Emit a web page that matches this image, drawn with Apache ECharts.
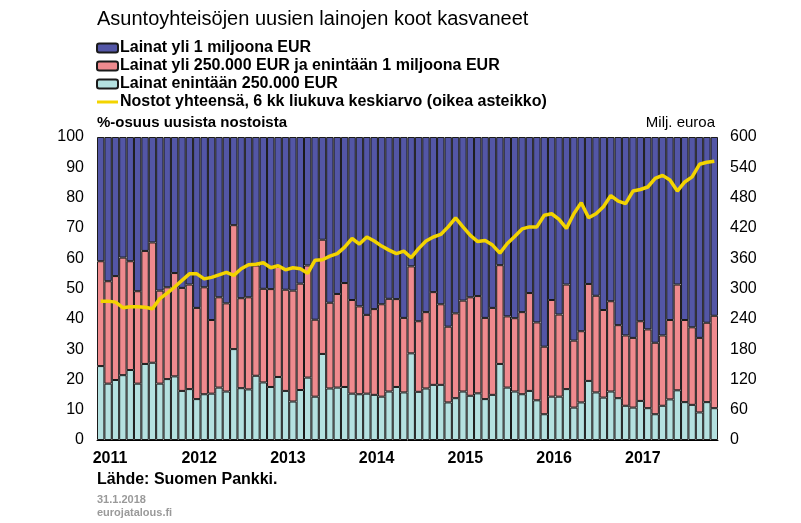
<!DOCTYPE html>
<html>
<head>
<meta charset="utf-8">
<script src="https://cdn.jsdelivr.net/npm/echarts@6/dist/echarts.min.js"></script>
<style>html,body{margin:0;padding:0;background:#fff}#c{width:801px;height:523px}</style>
</head>
<body>
<div id="c"></div>
<script>
// Monthly categories Jan 2011 – Dec 2017
const years = ['2011','2012','2013','2014','2015','2016','2017'];
const months = [];
years.forEach(y => { for (let m = 1; m <= 12; m++) months.push(y + '-' + (m < 10 ? '0' + m : m)); });

// Share of new loans, % (stack: small + medium + large = 100)
const smallLoans = [24.4,18.6,19.8,21.4,23.1,18.6,25.1,25.5,18.6,20.1,21.0,16.2,
  16.8,13.5,15.1,15.3,17.3,16.0,30.0,17.1,16.7,21.2,19.0,17.5,
  20.8,16.2,12.7,16.5,20.6,14.3,28.4,17.0,17.3,17.5,15.3,15.1,
  15.3,14.9,14.3,16.0,17.5,15.7,28.6,15.9,17.0,18.2,18.2,12.4,
  13.8,16.0,14.6,15.4,13.5,14.9,25.1,17.3,16.0,15.1,16.2,13.1,
  8.5,14.3,14.3,16.8,10.7,12.4,19.5,15.7,14.0,16.0,13.8,11.3,
  10.7,12.9,10.5,8.5,11.3,13.4,16.4,12.5,11.6,9.1,12.5,10.5];
const mediumLoans = [34.6,33.8,34.3,38.8,35.9,30.5,37.3,39.7,30.7,30.3,34.1,34.0,
  34.5,30.1,35.3,24.3,29.8,29.1,40.9,29.7,30.4,36.4,30.9,32.3,
  36.3,33.4,36.6,35.1,37.0,25.4,37.7,28.3,30.9,34.3,30.9,29.0,
  26.0,28.3,30.5,30.6,29.0,24.6,28.7,23.3,25.2,30.6,26.6,25.0,
  28.0,30.0,32.5,32.1,26.8,28.7,32.6,23.5,24.2,27.1,32.3,25.7,
  22.3,31.9,27.1,34.5,22.1,23.5,32.0,31.9,28.9,29.8,24.1,23.2,
  23.0,26.3,26.0,23.6,23.2,26.2,34.9,27.1,25.6,24.6,26.2,30.5];
const largeLoans = [41.0,47.6,45.9,39.8,41.0,50.9,37.6,34.8,50.7,49.6,44.9,49.8,
  48.7,56.4,49.6,60.4,52.9,54.9,29.1,53.2,52.9,42.4,50.1,50.2,
  42.9,50.4,50.7,48.4,42.4,60.3,33.9,54.7,51.8,48.2,53.8,55.9,
  58.7,56.8,55.2,53.4,53.5,59.7,42.7,60.8,57.8,51.2,55.2,62.6,
  58.2,54.0,52.9,52.5,59.7,56.4,42.3,59.2,59.8,57.8,51.5,61.2,
  69.2,53.8,58.6,48.7,67.2,64.1,48.5,52.4,57.1,54.2,62.1,65.5,
  66.3,60.8,63.5,67.9,65.5,60.4,48.7,60.4,62.8,66.3,61.3,59.0];
// Total drawdowns, 6-month moving average, EUR million (right axis)
const totalDrawdowns = [275,275,273,262,264,264,263,260,280,291,303,316,
  329,329,319,322,327,332,326,339,347,348,351,341,
  345,337,341,339,330,356,357,364,369,382,399,388,
  402,394,384,376,369,374,361,379,394,402,407,422,
  440,422,405,393,395,386,370,389,403,418,422,422,
  445,448,437,419,448,470,440,448,462,484,473,468,
  493,496,501,518,524,515,493,511,521,546,550,552];

const leftTicks = [0,10,20,30,40,50,60,70,80,90,100];
const rightTicks = [0,60,120,180,240,300,360,420,480,540,600];

const FONT = '"Liberation Sans", Arial, Helvetica, sans-serif';
const chart = echarts.init(document.getElementById('c'), null, {renderer: 'canvas'});
const border = {borderColor: '#1a1a1a', borderWidth: 1};
const LINE_COLOR = '#f3d400';

chart.setOption({
  animation: false,
  backgroundColor: '#ffffff',
  textStyle: {fontFamily: FONT, color: '#000'},
  title: {
    text: 'Asuntoyhteisöjen uusien lainojen koot kasvaneet',
    left: 97, top: 9, padding: 0,
    textStyle: {fontFamily: FONT, fontSize: 20, fontWeight: 'normal', color: '#000'}
  },
  legend: {
    orient: 'vertical', left: 96, top: 40, padding: 0,
    itemWidth: 21, itemHeight: 9, itemGap: 2,
    textStyle: {fontFamily: FONT, fontSize: 16, fontWeight: 'bold', color: '#000', padding: [0,0,0,-3]},
    data: [
      {name: 'Lainat yli 1 miljoona EUR'},
      {name: 'Lainat yli 250.000 EUR ja enintään 1 miljoona EUR'},
      {name: 'Lainat enintään 250.000 EUR'},
      {name: 'Nostot yhteensä, 6 kk liukuva keskiarvo (oikea asteikko)',
        icon: 'path://M0,0L21,0L21,3L0,3Z',
        itemStyle: {color: LINE_COLOR, borderWidth: 0}}
    ]
  },
  grid: {left: 97, right: 83, top: 137, bottom: 83, containLabel: false},
  xAxis: {
    type: 'category', data: months, boundaryGap: true,
    axisLine: {show: true, lineStyle: {color: '#000', width: 1}},
    axisTick: {show: false},
    axisLabel: {
      interval: (i) => i % 12 === 0,
      formatter: (v) => v.slice(0, 4),
      align: 'left', margin: 11,
      padding: [0,0,0,-8],
      fontFamily: FONT, fontSize: 16, fontWeight: 'bold', color: '#000'
    }
  },
  yAxis: [{
    type: 'value', min: 0, max: 100, interval: 10,
    name: '%-osuus uusista nostoista', nameLocation: 'end', nameGap: 7,
    nameTextStyle: {align: 'left', fontFamily: FONT, fontSize: 15, fontWeight: 'bold', color: '#000'},
    axisLine: {show: false}, axisTick: {show: false}, splitLine: {show: false},
    axisLabel: {margin: 13, fontFamily: FONT, fontSize: 16, color: '#000',
      formatter: (v) => leftTicks.indexOf(v) >= 0 ? String(v) : ''}
  }, {
    type: 'value', min: 0, max: 600, interval: 60, position: 'right',
    name: 'Milj. euroa', nameLocation: 'end', nameGap: 7,
    nameTextStyle: {align: 'right', fontFamily: FONT, fontSize: 15, fontWeight: 'normal', color: '#000', padding: [0,3,0,0]},
    axisLine: {show: false}, axisTick: {show: false}, splitLine: {show: false},
    axisLabel: {margin: 12, fontFamily: FONT, fontSize: 16, color: '#000',
      formatter: (v) => rightTicks.indexOf(v) >= 0 ? String(v) : ''}
  }],
  series: [
    {name: 'Lainat enintään 250.000 EUR', type: 'bar', stack: 's', data: smallLoans,
      barCategoryGap: '0%', itemStyle: Object.assign({color: '#b4e1e0'}, border)},
    {name: 'Lainat yli 250.000 EUR ja enintään 1 miljoona EUR', type: 'bar', stack: 's', data: mediumLoans,
      barCategoryGap: '0%', itemStyle: Object.assign({color: '#ef8a8e'}, border)},
    {name: 'Lainat yli 1 miljoona EUR', type: 'bar', stack: 's', data: largeLoans,
      barCategoryGap: '0%', itemStyle: Object.assign({color: '#5356a6'}, border)},
    {name: 'Nostot yhteensä, 6 kk liukuva keskiarvo (oikea asteikko)', type: 'line', yAxisIndex: 1,
      data: totalDrawdowns, symbol: 'none', smooth: false,
      lineStyle: {color: LINE_COLOR, width: 3.5}, itemStyle: {color: LINE_COLOR}, z: 5}
  ],
  graphic: [
    {type: 'text', left: 97, top: 472, style: {text: 'Lähde: Suomen Pankki.', font: 'bold 16px ' + FONT, fill: '#000'}},
    {type: 'text', left: 97, top: 494, style: {text: '31.1.2018', font: 'bold 11px ' + FONT, fill: '#9a9a9a'}},
    {type: 'text', left: 97, top: 507, style: {text: 'eurojatalous.fi', font: 'bold 11px ' + FONT, fill: '#9a9a9a'}}
  ]
});
</script>
</body>
</html>
